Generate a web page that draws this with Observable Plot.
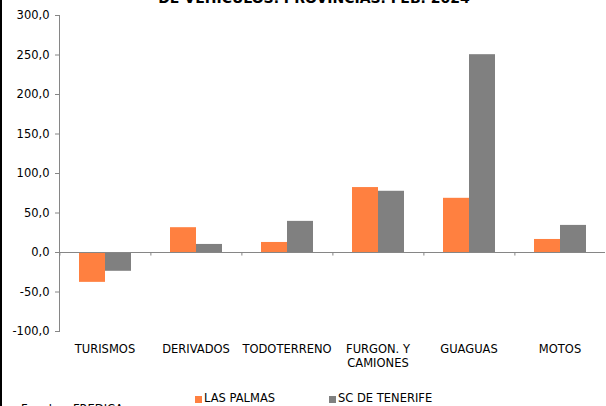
<!DOCTYPE html>
<html>
<head>
<meta charset="utf-8">
<script src="https://cdn.jsdelivr.net/npm/d3@7"></script>
<script src="https://cdn.jsdelivr.net/npm/@observablehq/plot@0.6"></script>
<style>
  html, body { margin: 0; padding: 0; background: #fff; }
  #wrap { position: relative; width: 606px; height: 406px; overflow: hidden; font-family: "DejaVu Sans", sans-serif; }
  #title { position: absolute; left: 0; width: 628px; top: -9px; text-align: center; font: bold 14px/14px "DejaVu Sans", sans-serif; color: #000; white-space: nowrap; }
  #border { position: absolute; left: 0; top: 0; width: 2px; height: 406px; background: #000; }
  #chart { position: absolute; left: 0; top: 0; }
  .leg { position: absolute; top: 392px; font: 11.5px/13px "DejaVu Sans", sans-serif; color: #000; white-space: nowrap; }
  .sw { position: absolute; top: 396px; width: 7px; height: 7px; }
  .src { position: absolute; top: 403px; font: 11.5px/13px "DejaVu Sans", sans-serif; color: #000; }
  svg g[aria-label="y-axis tick label"], svg g[aria-label="fx-axis tick label"] { fill: #000; }
</style>
</head>
<body>
<div id="wrap">
  <div id="title"></div>
  <div id="chart"></div>
  <div id="legend"></div>
  <div class="src" style="left:21px">Fuente:</div>
  <div class="src" style="left:73px">FREDICA</div>
  <div id="border"></div>
</div>
<script>
const titleText = "DE VEHICULOS. PROVINCIAS. FEB. 2024";
const categories = ["TURISMOS", "DERIVADOS", "TODOTERRENO", "FURGON. Y CAMIONES", "GUAGUAS", "MOTOS"];
const categoryLabels = ["TURISMOS", "DERIVADOS", "TODOTERRENO", "FURGON. Y\nCAMIONES", "GUAGUAS", "MOTOS"];
const series = ["LAS PALMAS", "SC DE TENERIFE"];
const lasPalmas = [-37.8, 31.4, 12.7, 82.2, 68.6, 16.5];
const scTenerife = [-23.8, 10.2, 39.4, 77.5, 250.4, 34.3];
const yTicks = [-100, -50, 0, 50, 100, 150, 200, 250, 300];
const colors = ["#FF8040", "#808080"];

document.getElementById("title").textContent = titleText;

const data = categories.flatMap((c, i) => [
  {cat: c, serie: series[0], value: lasPalmas[i]},
  {cat: c, serie: series[1], value: scTenerife[i]}
]);

const W = 606, ML = 58, MR = 0;
const facetW = (W - ML - MR) / categories.length;
const outer = 0.75;
const bw = facetW / (series.length + 2 * outer);
const boundaryDx = -(outer * bw + bw / 2);

const chart = Plot.plot({
  width: W,
  height: 378,
  marginLeft: ML,
  marginRight: MR,
  marginTop: 15,
  marginBottom: 47,
  style: {fontFamily: "'DejaVu Sans', sans-serif", fontSize: "11.5px", color: "#868686", background: "transparent", overflow: "visible"},
  fx: {domain: categories, padding: 0, label: null},
  x: {domain: series, paddingInner: 0, paddingOuter: outer, axis: null},
  y: {domain: [-100, 300], ticks: yTicks, tickFormat: d => d.toFixed(1).replace(".", ","), label: null, line: true, tickSize: 4, tickPadding: 6},
  color: {domain: series, range: colors},
  marks: [
    Plot.axisFx({anchor: "bottom", label: null, tickSize: 0, tickPadding: 12, lineHeight: 1.2, fill: "#000",
                 tickFormat: d => categoryLabels[categories.indexOf(d)]}),
    Plot.barY(data, {fx: "cat", x: "serie", y: "value", fill: "serie"}),
    Plot.ruleY([0], {stroke: "#868686"}),
    Plot.ruleX([series[0]], {x: d => d, y1: 0, y2: -4.5, stroke: "#868686", dx: boundaryDx})
  ]
});
document.getElementById("chart").appendChild(chart);

const legend = document.getElementById("legend");
const legX = [195, 329];
series.forEach((s, i) => {
  const sw = document.createElement("div");
  sw.className = "sw";
  sw.style.left = legX[i] + "px";
  sw.style.background = colors[i];
  legend.appendChild(sw);
  const t = document.createElement("div");
  t.className = "leg";
  t.style.left = (legX[i] + 9) + "px";
  t.textContent = s;
  legend.appendChild(t);
});
</script>
</body>
</html>
